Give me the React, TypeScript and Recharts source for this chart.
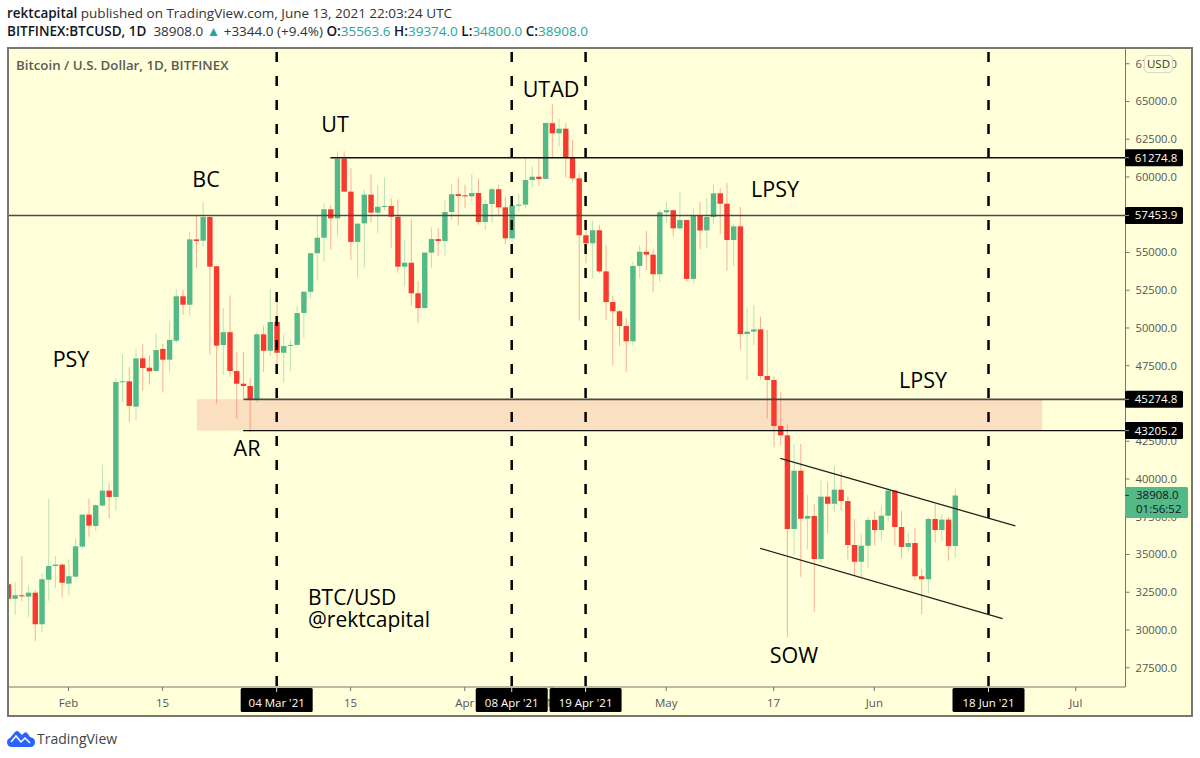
import React from 'react';
import {
  ComposedChart,
  Bar,
  XAxis,
  YAxis,
  ReferenceLine,
  ReferenceArea,
} from 'recharts';

const FONT = '"Open Sans", sans-serif';
const BG = '#ffffd9';
const UP = '#53b987';
const DOWN = '#f8392e';

// first candle is 23 Jan 2021, day numbers count from 1 Feb
const FIRST_DAY = -9;

const opens = [
  33030, 32070, 32300, 32210, 32470, 30380, 33330, 34240, 34330, 33070,
  33530, 35520, 37640, 36890, 38240, 39230, 38810, 46420, 46470, 44790,
  47990, 47370, 47150, 48610, 47900, 49160, 52100, 51540, 55870, 55780,
  57350, 54090, 48870, 49720, 47150, 46310, 46160, 45280, 49580, 48490,
  50400, 48360, 48810, 48880, 51000, 52400, 54950, 55980, 57860, 57260,
  61210, 59030, 55700, 56930, 58830, 57640, 58030, 58080, 57370, 54060,
  54320, 52300, 51320, 54990, 55890, 55760, 57680, 58860, 58790, 58720,
  58940, 57020, 58210, 59190, 57990, 55940, 58120, 58170, 59800, 60020,
  59870, 63560, 62890, 63200, 61280, 59910, 56140, 55610, 56470, 53750,
  51720, 51110, 50130, 49120, 54110, 55050, 54860, 53560, 57660, 57800,
  56600, 57150, 53250, 57480, 56460, 57350, 58920, 58230, 55830, 56730,
  49600, 49760, 49910, 46820, 46560, 43510, 42890, 36690, 40550, 37370,
  37550, 34700, 38830, 38360, 39290, 38540, 35630, 34520, 35580, 37290,
  36620, 37570, 39230, 36820, 35500, 35760, 33560, 33360, 37350, 36620,
  37310, 35563.6,
];
const highs = [
  33530, 33160, 34900, 32960, 32650, 33750, 38680, 34900, 34400, 34680,
  36050, 37700, 38720, 38340, 40950, 39720, 46670, 48280, 47400, 48590,
  48940, 48190, 49620, 48960, 50480, 52560, 52540, 56360, 57480, 58350,
  57480, 54100, 51320, 52160, 48410, 48410, 46690, 49760, 50150, 52580,
  51790, 49520, 49250, 51460, 52450, 54950, 57420, 58260, 58150, 61680,
  61700, 60580, 56930, 59140, 60200, 59470, 59980, 58590, 58520, 55830,
  57220, 53110, 55000, 56670, 56620, 58480, 59540, 59930, 59490, 60220,
  59870, 58480, 59320, 59490, 58660, 58150, 58880, 61260, 60710, 61340,
  63590, 64830, 63860, 63560, 62450, 60260, 57150, 57110, 56820, 55500,
  52120, 51190, 50660, 54390, 55480, 56440, 55230, 57820, 58350, 57820,
  58960, 57170, 57930, 58350, 58630, 59470, 59250, 59600, 56870, 58030,
  51340, 51520, 50750, 49870, 46800, 45780, 43600, 42320, 42320, 38940,
  38340, 39910, 39800, 40880, 40480, 38830, 37350, 36400, 37500, 37860,
  38210, 39450, 39260, 37880, 36440, 36780, 34020, 37470, 38320, 37640,
  37470, 39374,
];
const lows = [
  31370, 30990, 31920, 30840, 29250, 29870, 31940, 32780, 32190, 32300,
  33490, 35450, 36180, 36560, 38170, 37350, 37900, 45050, 43760, 43910,
  45850, 46250, 47080, 45720, 47040, 48990, 50860, 50750, 53990, 55380,
  48210, 45010, 46890, 46770, 43990, 45230, 43130, 45050, 47100, 48150,
  47550, 46380, 47150, 48830, 49340, 51970, 53130, 54390, 55190, 56110,
  59000, 54520, 53360, 53990, 56970, 56270, 57770, 55320, 53660, 52780,
  51480, 50310, 51300, 53990, 54770, 54810, 57130, 56800, 57950, 58330,
  56840, 56500, 56970, 57420, 55540, 55700, 57700, 57900, 59290, 59470,
  59860, 61300, 62010, 59980, 59650, 50480, 54290, 53290, 53620, 50530,
  47530, 48810, 47100, 48810, 53270, 53840, 52370, 53050, 56970, 56050,
  56440, 53070, 52960, 55230, 55300, 56890, 56230, 53790, 54110, 48590,
  46560, 48870, 46600, 44020, 42100, 42250, 29520, 34970, 33530, 35340,
  31210, 34420, 36400, 37800, 37880, 34680, 33600, 33380, 34130, 35610,
  35910, 37170, 35560, 34750, 35190, 33310, 31040, 32430, 35780, 35890,
  34590, 34800,
];
const closes = [
  32070, 32300, 32230, 32470, 30380, 33360, 34240, 34330, 33130, 33560,
  35540, 37640, 36910, 38260, 39230, 38810, 46420, 46470, 44840, 47990,
  47350, 47130, 48540, 47900, 49210, 52100, 51540, 55870, 55760, 57350,
  54060, 48830, 49720, 47150, 46310, 46160, 45280, 49580, 48490, 50400,
  48360, 48810, 48880, 50990, 52400, 54950, 55980, 57860, 57260, 61210,
  59030, 55700, 56910, 58830, 57640, 58030, 58080, 57370, 54060, 54320,
  52300, 51320, 54990, 55890, 55760, 57680, 58860, 58740, 58720, 58940,
  57020, 58210, 59190, 57990, 55940, 58120, 58170, 59800, 60020, 59870,
  63580, 62890, 63200, 61280, 59910, 56140, 55610, 56470, 53750, 51720,
  51110, 50130, 49120, 54110, 55050, 54860, 53560, 57660, 57800, 56600,
  57150, 53250, 57480, 56460, 57350, 58920, 58230, 55830, 56730, 49600,
  49760, 49910, 46820, 46560, 43510, 42890, 36690, 40550, 37370, 37550,
  34700, 38830, 38360, 39290, 38540, 35630, 34520, 35580, 37290, 36620,
  37570, 39230, 36820, 35500, 35760, 33560, 33360, 37350, 36620, 37310,
  35560, 38908,
];

// 57500, 45000, Mar and 15 Jun sit fully under the tags in the reference
const priceTicks = [27500, 30000, 32500, 35000, 37500, 40000, 42500, 47500, 50000, 52500, 55000, 60000, 62500, 65000, 67500];
const dayTicks = [0, 14, 42, 59, 72, 89, 105, 120, 150];
const dayTickLabels = ['Feb', '15', '15', 'Apr', '15', 'May', '17', 'Jun', 'Jul'];

const verticalDays = [31, 66, 77, 137];
const verticalLabels = ["04 Mar '21", "08 Apr '21", "19 Apr '21", "18 Jun '21"];

const levels = [61274.8, 57453.9, 45274.8, 43205.2];
const levelStartDays = [39, -9.16, 26.1, 26];
const levelColors = ['#111', '#4a4a44', '#4a4a44', '#111'];
const levelWidths = [1.3, 1.6, 1.6, 1.3];

const zoneDays = [19.1, 145];
const channelDays = [106, 141, 103, 139.1];
const channelPrices = [41370, 36890, 35410, 30750];

const lastPrice = 38908;

const rows = opens.map((open, i) => ({
  day: FIRST_DAY + i,
  open,
  high: highs[i],
  low: lows[i],
  close: closes[i],
  range: [lows[i], highs[i]],
}));

function Candle(props: any) {
  const { x, y, width, height, payload } = props;
  const { open, high, low, close } = payload;
  const rising = close >= open;
  const color = rising ? UP : DOWN;
  const perUnit = height / (high - low);
  const top = y + (high - Math.max(open, close)) * perUnit;
  const bottom = y + (high - Math.min(open, close)) * perUnit;
  const cx = x + width / 2;
  return (
    <g>
      <line x1={cx} x2={cx} y1={y} y2={y + height} stroke={color} strokeOpacity={0.4} strokeWidth={1} />
      <rect x={x} y={top} width={width} height={Math.max(bottom - top, 1)} fill={color} />
    </g>
  );
}

function PriceTag({ viewBox, text }: any) {
  const y = viewBox.y;
  return (
    <g>
      <rect x={1125} y={y - 8.5} width={58} height={17} rx={1.5} fill="#000" />
      <line x1={1125} x2={1129} y1={y} y2={y} stroke="#999" />
      <text x={1156} y={y + 4} textAnchor="middle" fontSize={11.5} fontFamily={FONT} fill="#fff">{text}</text>
    </g>
  );
}

function LastPriceTag({ viewBox }: any) {
  const y = viewBox.y;
  return (
    <g>
      <rect x={1125} y={y - 8.5} width={63} height={31} rx={1.5} fill={UP} />
      <line x1={1125} x2={1129} y1={y} y2={y} stroke="#333" />
      <text x={1136} y={y + 4} fontSize={11.5} fontFamily={FONT} fill="#131722">38908.0</text>
      <text x={1136} y={y + 18} fontSize={11.5} fontFamily={FONT} fill="#131722">01:56:52</text>
    </g>
  );
}

function DateTag({ viewBox, text }: any) {
  const cx = viewBox.x;
  return (
    <g>
      <rect x={cx - 36} y={688} width={72} height={24} rx={1.5} fill="#000" />
      <line x1={cx} x2={cx} y1={688} y2={692} stroke="#ddd" />
      <text x={cx} y={707} textAnchor="middle" fontSize={11.5} fontFamily={FONT} fill="#fff">{text}</text>
    </g>
  );
}

const notes = [
  { text: 'PSY', x: 71, y: 359 },
  { text: 'BC', x: 206, y: 179 },
  { text: 'UT', x: 335, y: 124 },
  { text: 'UTAD', x: 551, y: 89 },
  { text: 'LPSY', x: 775, y: 189 },
  { text: 'LPSY', x: 923, y: 380 },
  { text: 'AR', x: 247, y: 448 },
  { text: 'SOW', x: 794, y: 655 },
];

const boldStyle = { color: '#131722', fontWeight: 600 };

export default function App() {
  return (
    <div style={{ position: 'absolute', left: 0, top: 0, width: 1200, height: 758, background: '#fff', overflow: 'hidden', fontFamily: FONT }}>
      <div style={{ position: 'absolute', left: 7, top: 4, fontSize: 13.5, color: '#333', whiteSpace: 'nowrap' }}>
        <span style={boldStyle}>rektcapital</span> published on TradingView.com, June 13, 2021 22:03:24 UTC
      </div>
      <div style={{ position: 'absolute', left: 7, top: 22, fontSize: 13.5, color: '#333', whiteSpace: 'pre' }}>
        <span style={boldStyle}>BITFINEX:BTCUSD, 1D</span>
        {'  38908.0 '}
        <span style={{ color: '#26a69a' }}>▲</span>
        {' +3344.0 (+9.4%) '}
        <span style={boldStyle}>O:</span><span style={{ color: '#26a69a' }}>35563.6</span>{' '}
        <span style={boldStyle}>H:</span><span style={{ color: '#26a69a' }}>39374.0</span>{' '}
        <span style={boldStyle}>L:</span><span style={{ color: '#26a69a' }}>34800.0</span>{' '}
        <span style={boldStyle}>C:</span><span style={{ color: '#26a69a' }}>38908.0</span>
      </div>

      <div style={{ position: 'absolute', left: 7, top: 47, width: 1186, height: 670, background: BG }} />

      <div style={{ position: 'absolute', left: 0, top: 0 }}>
        <ComposedChart
          width={1200}
          height={758}
          data={rows}
          margin={{ top: 47, left: 7, right: 7, bottom: 41 }}
        >
          <XAxis
            dataKey="day"
            type="number"
            domain={[-9.16, 157.4]}
            ticks={dayTicks}
            interval={0}
            allowDataOverflow
            height={30}
            stroke="#77776f"
            tickSize={4}
            tickMargin={8}
            tick={{ fill: '#555', fontSize: 11.5, fontFamily: FONT }}
            tickFormatter={(v: number) => dayTickLabels[dayTicks.indexOf(v)]}
          />
          <YAxis
            orientation="right"
            type="number"
            domain={[26225, 68609]}
            ticks={priceTicks}
            interval={0}
            allowDataOverflow
            width={67.5}
            stroke="#77776f"
            tickSize={4}
            tickMargin={6}
            tick={{ fill: '#555', fontSize: 11.2, fontFamily: FONT }}
            tickFormatter={(v: number) => v.toFixed(1)}
          />
          <ReferenceArea
            x1={zoneDays[0]}
            x2={zoneDays[1]}
            y1={levels[3]}
            y2={levels[2]}
            fill="#fadfc0"
            fillOpacity={1}
            stroke="none"
          />
          {verticalDays.map((day) => (
            <ReferenceLine
              key={day}
              x={day}
              stroke="#000"
              strokeWidth={2.5}
              strokeDasharray="10 14"
              strokeDashoffset={-1}
            />
          ))}
          {levels.map((price, i) => (
            <ReferenceLine
              key={price}
              segment={[{ x: levelStartDays[i], y: price }, { x: 157.4, y: price }]}
              stroke={levelColors[i]}
              strokeWidth={levelWidths[i]}
            />
          ))}
          <ReferenceLine
            segment={[{ x: channelDays[0], y: channelPrices[0] }, { x: channelDays[1], y: channelPrices[1] }]}
            stroke="#222"
            strokeWidth={1.3}
          />
          <ReferenceLine
            segment={[{ x: channelDays[2], y: channelPrices[2] }, { x: channelDays[3], y: channelPrices[3] }]}
            stroke="#222"
            strokeWidth={1.3}
          />
          <Bar dataKey="range" barSize={5.4} shape={<Candle />} isAnimationActive={false} />
        </ComposedChart>
      </div>

      {/* the axis tags have to cover the tick labels, so they get their own layer */}
      <div style={{ position: 'absolute', left: 0, top: 0 }}>
        <ComposedChart
          width={1200}
          height={758}
          data={rows}
          margin={{ top: 47, left: 7, right: 74.5, bottom: 71 }}
        >
          <XAxis dataKey="day" type="number" domain={[-9.16, 157.4]} allowDataOverflow hide />
          <YAxis type="number" domain={[26225, 68609]} allowDataOverflow hide />
          {verticalDays.map((day, i) => (
            <ReferenceLine key={day} x={day} stroke="none" label={<DateTag text={verticalLabels[i]} />} />
          ))}
          {levels.map((price) => (
            <ReferenceLine key={price} y={price} stroke="none" label={<PriceTag text={price.toFixed(1)} />} />
          ))}
          <ReferenceLine y={lastPrice} stroke="none" label={<LastPriceTag />} />
        </ComposedChart>
      </div>

      <div style={{ position: 'absolute', left: 7, top: 47, width: 1186, height: 670, border: '2px solid #77776f', boxSizing: 'border-box', pointerEvents: 'none' }} />

      <div style={{ position: 'absolute', left: 16, top: 56, fontSize: 13.3, fontWeight: 600, color: '#5a5a55', whiteSpace: 'nowrap' }}>
        Bitcoin / U.S. Dollar, 1D, BITFINEX
      </div>

      {notes.map((n) => (
        <div key={n.x} style={{ position: 'absolute', left: n.x - 60, top: n.y - 15, width: 120, textAlign: 'center', fontSize: 21.5, fontWeight: 500, lineHeight: '30px', color: '#000' }}>
          {n.text}
        </div>
      ))}
      <div style={{ position: 'absolute', left: 308, top: 586, fontSize: 21, fontWeight: 500, lineHeight: '22px', color: '#000', whiteSpace: 'nowrap' }}>
        BTC/USD<br />@rektcapital
      </div>

      <div style={{ position: 'absolute', left: 1144, top: 55, width: 29, height: 18, boxSizing: 'border-box', border: '1px solid #d8d8cc', borderRadius: 4, background: BG, fontSize: 11.5, lineHeight: '16px', textAlign: 'center', color: '#333' }}>
        USD
      </div>

      <svg style={{ position: 'absolute', left: 7, top: 729 }} width={28} height={18} viewBox="0 0 28 18">
        <path d="M0 13 Q0 10 3 9 L8 3 Q10 1 12 3 L15 6 L17 4 Q19 2 21 5 L23 8 Q28 9 28 13 Q28 18 23 18 L5 18 Q0 18 0 13 Z" fill="#2962ff" />
        <path d="M4 13 L9 7 L14 13 L18 9 L23 14" fill="none" stroke="#fff" strokeWidth={1.5} />
      </svg>
      <div style={{ position: 'absolute', left: 37, top: 729, fontSize: 14, lineHeight: '20px', color: '#444' }}>TradingView</div>
    </div>
  );
}
